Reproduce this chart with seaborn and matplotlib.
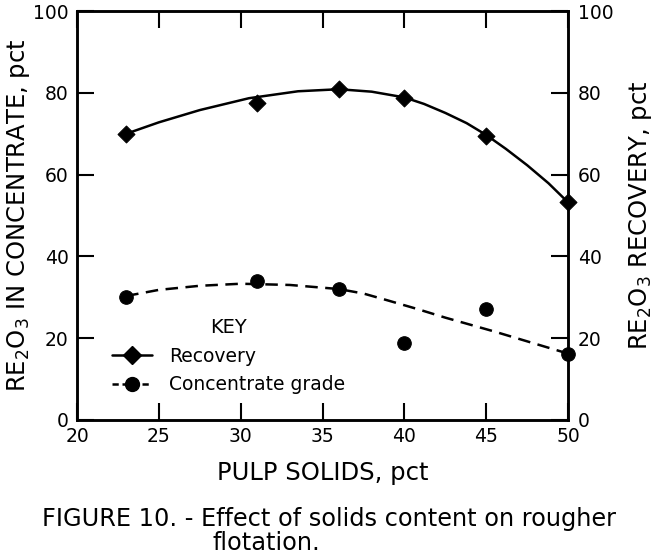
import matplotlib
matplotlib.use("Agg")
import matplotlib.pyplot as plt
from matplotlib.lines import Line2D
import seaborn as sns
import pandas as pd

# measured data points
pulp_solids = [23, 31, 36, 40, 45, 50]
recovery = [70, 77.5, 81, 78.8, 69.5, 53.3]
conc_grade = [30, 34, 32, 18.7, 27, 16]

# hand-drawn trend curves
recovery_curve_x = [23, 25, 27.5, 30.5, 33.5, 36, 38, 40, 41.2, 42.5, 43.8, 45, 46.2, 47.5, 48.8, 50]
recovery_curve_y = [70, 72.8, 75.8, 78.7, 80.4, 80.9, 80.3, 78.9, 77.3, 75.1, 72.6, 69.7, 66.3, 62.3, 57.9, 53.2]
grade_curve_x = [23, 25, 27.5, 30, 33, 36, 37.5, 39, 40.8, 42.5, 44, 45.5, 48, 50]
grade_curve_y = [30.3, 31.8, 32.8, 33.3, 33.0, 32.0, 30.9, 29.2, 27.1, 25.0, 23.3, 21.6, 18.6, 16.2]

x_ticks = [20, 25, 30, 35, 40, 45, 50]
y_ticks = [0, 20, 40, 60, 80, 100]

sns.set_style("white")
plt.rcParams['font.family'] = ['DejaVu Sans']
plt.rcParams['text.color'] = 'black'
plt.rcParams['axes.labelcolor'] = 'black'
plt.rcParams['xtick.color'] = 'black'
plt.rcParams['ytick.color'] = 'black'

pts = pd.DataFrame({"solids": pulp_solids, "recovery": recovery, "grade": conc_grade})
rc = pd.DataFrame({"x": recovery_curve_x, "y": recovery_curve_y})
gc = pd.DataFrame({"x": grade_curve_x, "y": grade_curve_y})

fig = plt.figure(figsize=(6.53, 5.59), dpi=100)
ax = fig.add_axes([0.118, 0.249, 0.752, 0.731])

sns.lineplot(data=rc, x="x", y="y", sort=False, color="black", lw=1.8, ax=ax)
sns.lineplot(data=gc, x="x", y="y", sort=False, color="black", lw=1.8,
             dashes=False, ax=ax).lines[-1].set_linestyle((0, (5, 3)))
for ln in ax.lines:
    ln.set_solid_joinstyle("round")
    ln.set_dash_joinstyle("round")
sns.scatterplot(data=pts, x="solids", y="recovery", marker="D", s=75, color="black",
                edgecolor="black", ax=ax, zorder=5, clip_on=False)
sns.scatterplot(data=pts, x="solids", y="grade", marker="o", s=95, color="black",
                edgecolor="black", ax=ax, zorder=5, clip_on=False)

ax.set_xlim(20, 50)
ax.set_ylim(0, 100)
ax.set_xticks(x_ticks)
ax.set_yticks(y_ticks)
for s in ax.spines.values():
    s.set_linewidth(1.8)
    s.set_color("black")
ax.tick_params(direction="in", length=12.5, width=1.5, labelsize=13.5, top=True,
               bottom=True, left=True, right=False, pad=5)
ax.tick_params(axis="y", pad=6)
ax.set_xlabel("PULP SOLIDS, pct", fontsize=17.5, labelpad=11)
ax.set_ylabel("RE$_2$O$_3$ IN CONCENTRATE, pct", fontsize=17.5, labelpad=1)

ax2 = ax.twinx()
ax2.set_ylim(0, 100)
ax2.set_yticks(y_ticks)
ax2.tick_params(direction="in", length=12.5, width=1.5, labelsize=13.5, pad=7)
ax2.set_ylabel("RE$_2$O$_3$ RECOVERY, pct", fontsize=17.5, labelpad=10)
for s in ax2.spines.values():
    s.set_linewidth(1.8)
    s.set_color("black")

handles = [
    Line2D([], [], color="black", lw=1.8, marker="D", markersize=9),
    Line2D([], [], color="black", lw=1.8, ls=(0, (2.5, 1.5)), marker="o", markersize=10),
]
leg = ax.legend(handles, ["Recovery", "Concentrate grade"], title="KEY",
                loc="upper left", bbox_to_anchor=(0.071, 0.248), frameon=False,
                borderpad=0, borderaxespad=0, fontsize=13.5, title_fontsize=14,
                handlelength=2.15, handletextpad=0.9, labelspacing=0.5)

fig.text(0.064, 0.059, "FIGURE 10. - Effect of solids content on rougher",
         fontsize=17.3, va="baseline")
fig.text(0.325, 0.016, "flotation.", fontsize=17.3, va="baseline")

fig.savefig("out.png", dpi=100)
